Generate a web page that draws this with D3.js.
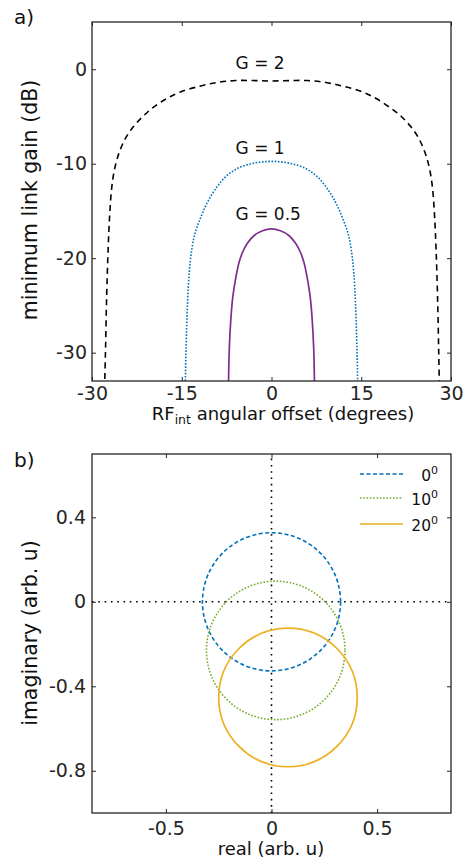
<!DOCTYPE html>
<html>
<head>
<meta charset="utf-8">
<script src="https://cdn.jsdelivr.net/npm/d3@7"></script>
<style>
  html, body { margin: 0; padding: 0; background: #fff; }
  svg { display: block; font-family: "DejaVu Sans", Verdana, sans-serif; }
</style>
</head>
<body>
<svg id="fig" width="475" height="865"></svg>
<script>
// ---------- Panel a: minimum link gain vs. interferer angular offset ----------
const offsetTicks = [-30, -15, 0, 15, 30];
const offsetTickLabels = ["-30", "-15", "0", "15", "30"];
const gainTicks = [0, -10, -20, -30];
const gainTickLabels = ["0", "-10", "-20", "-30"];

// G = 2 (dashed black)
const g2Offset = [-27.95, -27.75, -27.55, -27.3, -27.05, -26.7, -26.2, -25.5, -24.4, -23.1, -21.5, -19.7, -17.5, -15.2, -12.0, -9.1, -6.0, -3.0, 0, 3.0, 6.0, 9.1, 12.0, 15.2, 17.5, 19.9, 21.7, 23.3, 24.6, 25.7, 26.4, 26.9, 27.25, 27.5, 27.75, 27.95, 28.1];
const g2Gain   = [-35, -30, -24, -19, -15.5, -12.5, -10.5, -8.9, -7.3, -6.1, -5.0, -4.0, -3.1, -2.4, -1.8, -1.4, -1.2, -1.2, -1.25, -1.2, -1.2, -1.4, -1.8, -2.4, -3.1, -4.1, -5.0, -6.1, -7.3, -8.9, -10.5, -12.5, -15.5, -19, -24, -30, -35];

// G = 1 (dotted blue)
const g1Offset = [-14.45, -14.3, -14.05, -13.75, -13.35, -12.8, -11.9, -10.8, -9.5, -7.7, -5.7, -3.0, 0, 3.0, 5.7, 7.7, 9.5, 10.8, 11.9, 12.8, 13.35, 13.75, 14.05, 14.3, 14.45];
const g1Gain   = [-35, -30, -25, -21.5, -19.2, -17.4, -15.8, -14.2, -12.8, -11.4, -10.5, -9.95, -9.75, -9.95, -10.5, -11.4, -12.8, -14.2, -15.8, -17.4, -19.2, -21.5, -25, -30, -35];

// G = 0.5 (solid purple)
const g05Offset = [-7.25, -7.18, -7.05, -6.8, -6.45, -5.95, -5.45, -4.85, -4.0, -2.9, -1.5, 0, 1.5, 2.9, 4.0, 4.85, 5.45, 5.95, 6.45, 6.8, 7.05, 7.18, 7.25];
const g05Gain   = [-36, -33, -29.5, -26.5, -24.0, -22.0, -20.5, -19.4, -18.4, -17.6, -17.1, -16.9, -17.1, -17.6, -18.4, -19.4, -20.5, -22.0, -24.0, -26.5, -29.5, -33, -36];

const curveLabels = ["G = 2", "G = 1", "G = 0.5"];
const curveLabelOffset = [-6, -6, -6];
const curveLabelGain = [0, -9, -16];

// ---------- Panel b: complex response circles ----------
const realTicks = [-0.5, 0, 0.5];
const realTickLabels = ["-0.5", "0", "0.5"];
const imagTicks = [0.4, 0, -0.4, -0.8];
const imagTickLabels = ["0.4", "0", "-0.4", "-0.8"];

const phaseLabels = ["0", "10", "20"];
const centerRe = [0, 0.02, 0.078];
const centerIm = [0, -0.23, -0.453];
const circleRadius = [0.327, 0.328, 0.328];

// ---------- drawing ----------
const svg = d3.select("#fig");
const ink = "#262626";

function drawFrame(g, x, y, xt, xl, yt, yl, xPad, yPad) {
  const [x0, x1] = x.range();
  const [y0, y1] = y.range();
  const bottom = d3.axisBottom(x).tickValues(xt).tickFormat((d, i) => xl[i]).tickSize(-4).tickPadding(xPad);
  const top = d3.axisTop(x).tickValues(xt).tickFormat("").tickSize(-4);
  const left = d3.axisLeft(y).tickValues(yt).tickFormat((d, i) => yl[i]).tickSize(-4).tickPadding(yPad);
  const right = d3.axisRight(y).tickValues(yt).tickFormat("").tickSize(-4);
  const parts = [
    g.append("g").attr("transform", `translate(0,${y0})`).call(bottom),
    g.append("g").attr("transform", `translate(0,${y1})`).call(top),
    g.append("g").attr("transform", `translate(${x0},0)`).call(left),
    g.append("g").attr("transform", `translate(${x1},0)`).call(right)
  ];
  parts.forEach(p => {
    p.select(".domain").remove();
    p.selectAll(".tick line").attr("stroke", ink).attr("stroke-width", 1);
    p.selectAll(".tick text").attr("fill", ink).style("font-size", "19px")
      .style("font-family", '"DejaVu Sans", Verdana, sans-serif');
  });
  g.append("rect")
    .attr("x", x0).attr("y", y1)
    .attr("width", x1 - x0).attr("height", y0 - y1)
    .attr("fill", "none").attr("stroke", ink).attr("stroke-width", 1.3);
}

// Panel a
const xa = d3.scaleLinear().domain([-30, 30]).range([92, 451]);
const ya = d3.scaleLinear().domain([-33, 5]).range([381, 22]);
const ga = svg.append("g");

svg.append("defs").append("clipPath").attr("id", "clipA")
  .append("rect").attr("x", 92).attr("y", 22).attr("width", 359).attr("height", 359);

const lineA = d3.line().x(d => xa(d[0])).y(d => ya(d[1])).curve(d3.curveCatmullRom.alpha(0.5));
const curves = [
  { off: g2Offset, gain: g2Gain, color: "#000000", dash: "6,4.5", w: 1.6 },
  { off: g1Offset, gain: g1Gain, color: "#0072BD", dash: "1.6,1.6", w: 1.6 },
  { off: g05Offset, gain: g05Gain, color: "#7E2F8E", dash: null, w: 1.7 }
];
const curveG = ga.append("g").attr("clip-path", "url(#clipA)");
curves.forEach(c => {
  curveG.append("path")
    .datum(d3.zip(c.off, c.gain))
    .attr("d", lineA)
    .attr("fill", "none")
    .attr("stroke", c.color)
    .attr("stroke-width", c.w)
    .attr("stroke-dasharray", c.dash);
});

ga.selectAll("text.glabel")
  .data(curveLabels)
  .join("text")
  .attr("class", "glabel")
  .attr("x", (d, i) => xa(curveLabelOffset[i]))
  .attr("y", (d, i) => ya(curveLabelGain[i]))
  .attr("fill", "#111")
  .style("font-size", "17px")
  .text(d => d);

drawFrame(ga, xa, ya, offsetTicks, offsetTickLabels, gainTicks, gainTickLabels, 5.5, 5);

// axis titles, panel a
const xTitleA = ga.append("text")
  .attr("x", 283).attr("y", 420)
  .attr("text-anchor", "middle")
  .attr("fill", "#111")
  .style("font-size", "18px");
xTitleA.append("tspan").text("RF");
xTitleA.append("tspan").attr("dy", 4).style("font-size", "12.5px").text("int");
xTitleA.append("tspan").attr("dy", -4).text(" angular offset (degrees)");

ga.append("text")
  .attr("transform", "translate(37,200) rotate(-90)")
  .attr("text-anchor", "middle")
  .attr("fill", "#111")
  .style("font-size", "20.5px")
  .text("minimum link gain (dB)");

ga.append("text").attr("x", 14).attr("y", 24).attr("fill", "#111")
  .style("font-size", "20px").text("a)");

// Panel b
const xb = d3.scaleLinear().domain([-0.85, 0.85]).range([92, 451]);
const yb = d3.scaleLinear().domain([-1, 0.7]).range([813, 454]);
const gb = svg.append("g");

// zero crosshair
gb.append("line")
  .attr("x1", xb(-0.85)).attr("x2", xb(0.85))
  .attr("y1", yb(0)).attr("y2", yb(0))
  .attr("stroke", "#000").attr("stroke-width", 1.6).attr("stroke-dasharray", "1.6,4.7");
gb.append("line")
  .attr("x1", xb(0)).attr("x2", xb(0))
  .attr("y1", yb(-1)).attr("y2", yb(0.7))
  .attr("stroke", "#000").attr("stroke-width", 1.6).attr("stroke-dasharray", "1.6,4.7");

const circleStyles = [
  { color: "#0072BD", dash: "4,2.5", w: 1.6 },
  { color: "#77AC30", dash: "1.6,1.7", w: 1.6 },
  { color: "#EDB120", dash: null, w: 1.7 }
];

gb.selectAll("ellipse.resp")
  .data(phaseLabels)
  .join("ellipse")
  .attr("class", "resp")
  .attr("cx", (d, i) => xb(centerRe[i]))
  .attr("cy", (d, i) => yb(centerIm[i]))
  .attr("rx", (d, i) => xb(circleRadius[i]) - xb(0))
  .attr("ry", (d, i) => yb(0) - yb(circleRadius[i]))
  .attr("fill", "none")
  .attr("stroke", (d, i) => circleStyles[i].color)
  .attr("stroke-width", (d, i) => circleStyles[i].w)
  .attr("stroke-dasharray", (d, i) => circleStyles[i].dash);

// legend
const legendY = [474, 498, 524];
phaseLabels.forEach((lab, i) => {
  gb.append("line")
    .attr("x1", 360).attr("x2", 403)
    .attr("y1", legendY[i]).attr("y2", legendY[i])
    .attr("stroke", circleStyles[i].color)
    .attr("stroke-width", circleStyles[i].w)
    .attr("stroke-dasharray", circleStyles[i].dash);
  const t = gb.append("text")
    .attr("x", 438).attr("y", legendY[i] + 6.5)
    .attr("text-anchor", "end")
    .attr("fill", "#111")
    .style("font-size", "15.5px");
  t.append("tspan").text(lab);
  t.append("tspan").attr("dy", -7).style("font-size", "11px").text("0");
});

drawFrame(gb, xb, yb, realTicks, realTickLabels, imagTicks, imagTickLabels, 8.5, 6);

gb.append("text")
  .attr("x", 271).attr("y", 855)
  .attr("text-anchor", "middle")
  .attr("fill", "#111")
  .style("font-size", "18px")
  .text("real (arb. u)");

gb.append("text")
  .attr("transform", "translate(37,633) rotate(-90)")
  .attr("text-anchor", "middle")
  .attr("fill", "#111")
  .style("font-size", "20.5px")
  .text("imaginary (arb. u)");

gb.append("text").attr("x", 14).attr("y", 467).attr("fill", "#111")
  .style("font-size", "20px").text("b)");
</script>
</body>
</html>
